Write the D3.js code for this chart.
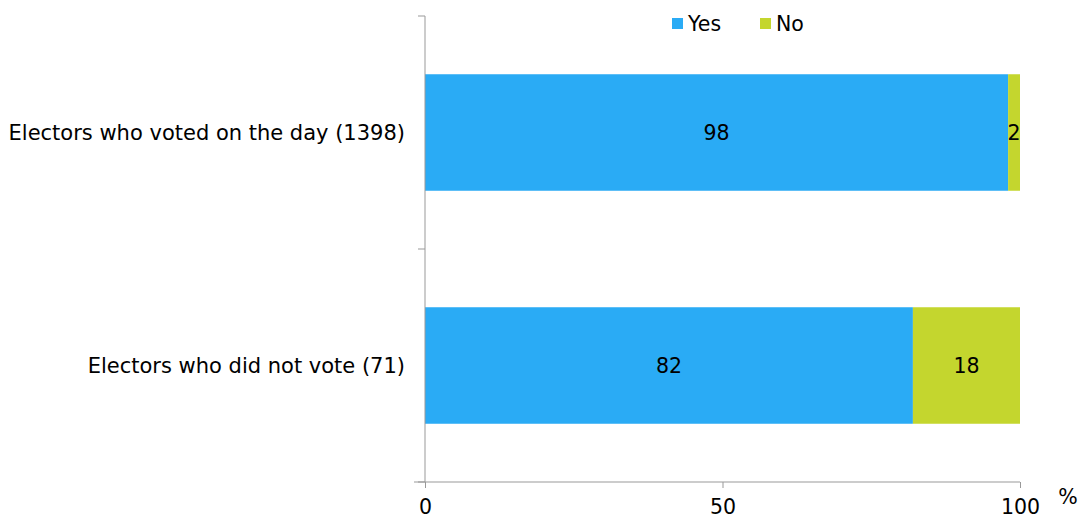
<!DOCTYPE html>
<html><head><meta charset="utf-8">
<script src="https://cdn.jsdelivr.net/npm/d3@7"></script>
<style>body{margin:0;background:#fff;} text{font-family:"DejaVu Sans",Verdana,sans-serif;}</style>
</head><body>
<svg id="c" width="1083" height="520"></svg>
<script>
const categories = ["Electors who voted on the day (1398)", "Electors who did not vote (71)"];
const seriesNames = ["Yes", "No"];
const yesValues = [98, 82];
const noValues = [2, 18];
const xTicks = [0, 50, 100];
const colors = ["#2AABF5", "#C4D62E"];

(function(){
const svg = d3.select("#c");
const pL = 425, pR = 1020, pT = 16, pB = 482;
const fs = 20.5;
const x = d3.scaleLinear().domain([0, 100]).range([pL, pR]);
const y = d3.scaleBand().domain(categories).range([pT, pB]).paddingInner(0.5).paddingOuter(0.25);

const data = categories.map((c, i) => ({cat: c, Yes: yesValues[i], No: noValues[i]}));
const stacked = d3.stack().keys(seriesNames)(data);

const g = svg.append("g");
stacked.forEach((s, si) => {
  g.selectAll(null).data(s).enter().append("rect")
    .attr("x", d => x(d[0])).attr("width", d => x(d[1]) - x(d[0]))
    .attr("y", d => y(d.data.cat)).attr("height", y.bandwidth())
    .attr("fill", colors[si]);
  g.selectAll(null).data(s).enter().append("text")
    .attr("x", d => (x(d[0]) + x(d[1])) / 2)
    .attr("y", d => y(d.data.cat) + y.bandwidth() / 2)
    .attr("dy", "0.35em").attr("text-anchor", "middle")
    .attr("font-size", fs).attr("fill", "#000")
    .text(d => d[1] - d[0]);
});

const axisColor = "#999";
svg.append("line").attr("x1", pL).attr("x2", pL).attr("y1", pT).attr("y2", pB).attr("stroke", axisColor);
const bounds = [pT, (pT + pB) / 2, pB];
svg.selectAll(null).data(bounds).enter().append("line")
  .attr("x1", pL - 7).attr("x2", pL).attr("y1", d => d).attr("y2", d => d).attr("stroke", axisColor);
svg.selectAll(null).data(categories).enter().append("text")
  .attr("x", pL - 20).attr("y", d => y(d) + y.bandwidth() / 2).attr("dy", "0.35em")
  .attr("text-anchor", "end").attr("font-size", 21).attr("fill", "#000").text(d => d);

const xAxis = svg.append("g").attr("transform", `translate(0,${pB})`)
  .call(d3.axisBottom(x).tickValues(xTicks).tickSize(6).tickSizeOuter(0).tickPadding(11));
xAxis.select(".domain").remove();
xAxis.append("line").attr("x1", pL - 11).attr("x2", pR).attr("stroke", axisColor);
xAxis.selectAll(".tick line").attr("stroke", axisColor);
xAxis.selectAll(".tick text").attr("font-size", fs).attr("fill", "#000")
  .attr("font-family", "DejaVu Sans, Verdana, sans-serif");
svg.append("text").attr("x", 1068).attr("y", 504).attr("text-anchor", "middle")
  .attr("font-size", fs).attr("fill", "#000").text("%");

const legX = [672, 760];
seriesNames.forEach((n, i) => {
  svg.append("rect").attr("x", legX[i]).attr("y", 18).attr("width", 11).attr("height", 11).attr("fill", colors[i]);
  svg.append("text").attr("x", legX[i] + 16).attr("y", 24).attr("dy", "0.35em")
    .attr("font-size", fs).attr("fill", "#000").text(n);
});
})();
</script>
</body></html>
